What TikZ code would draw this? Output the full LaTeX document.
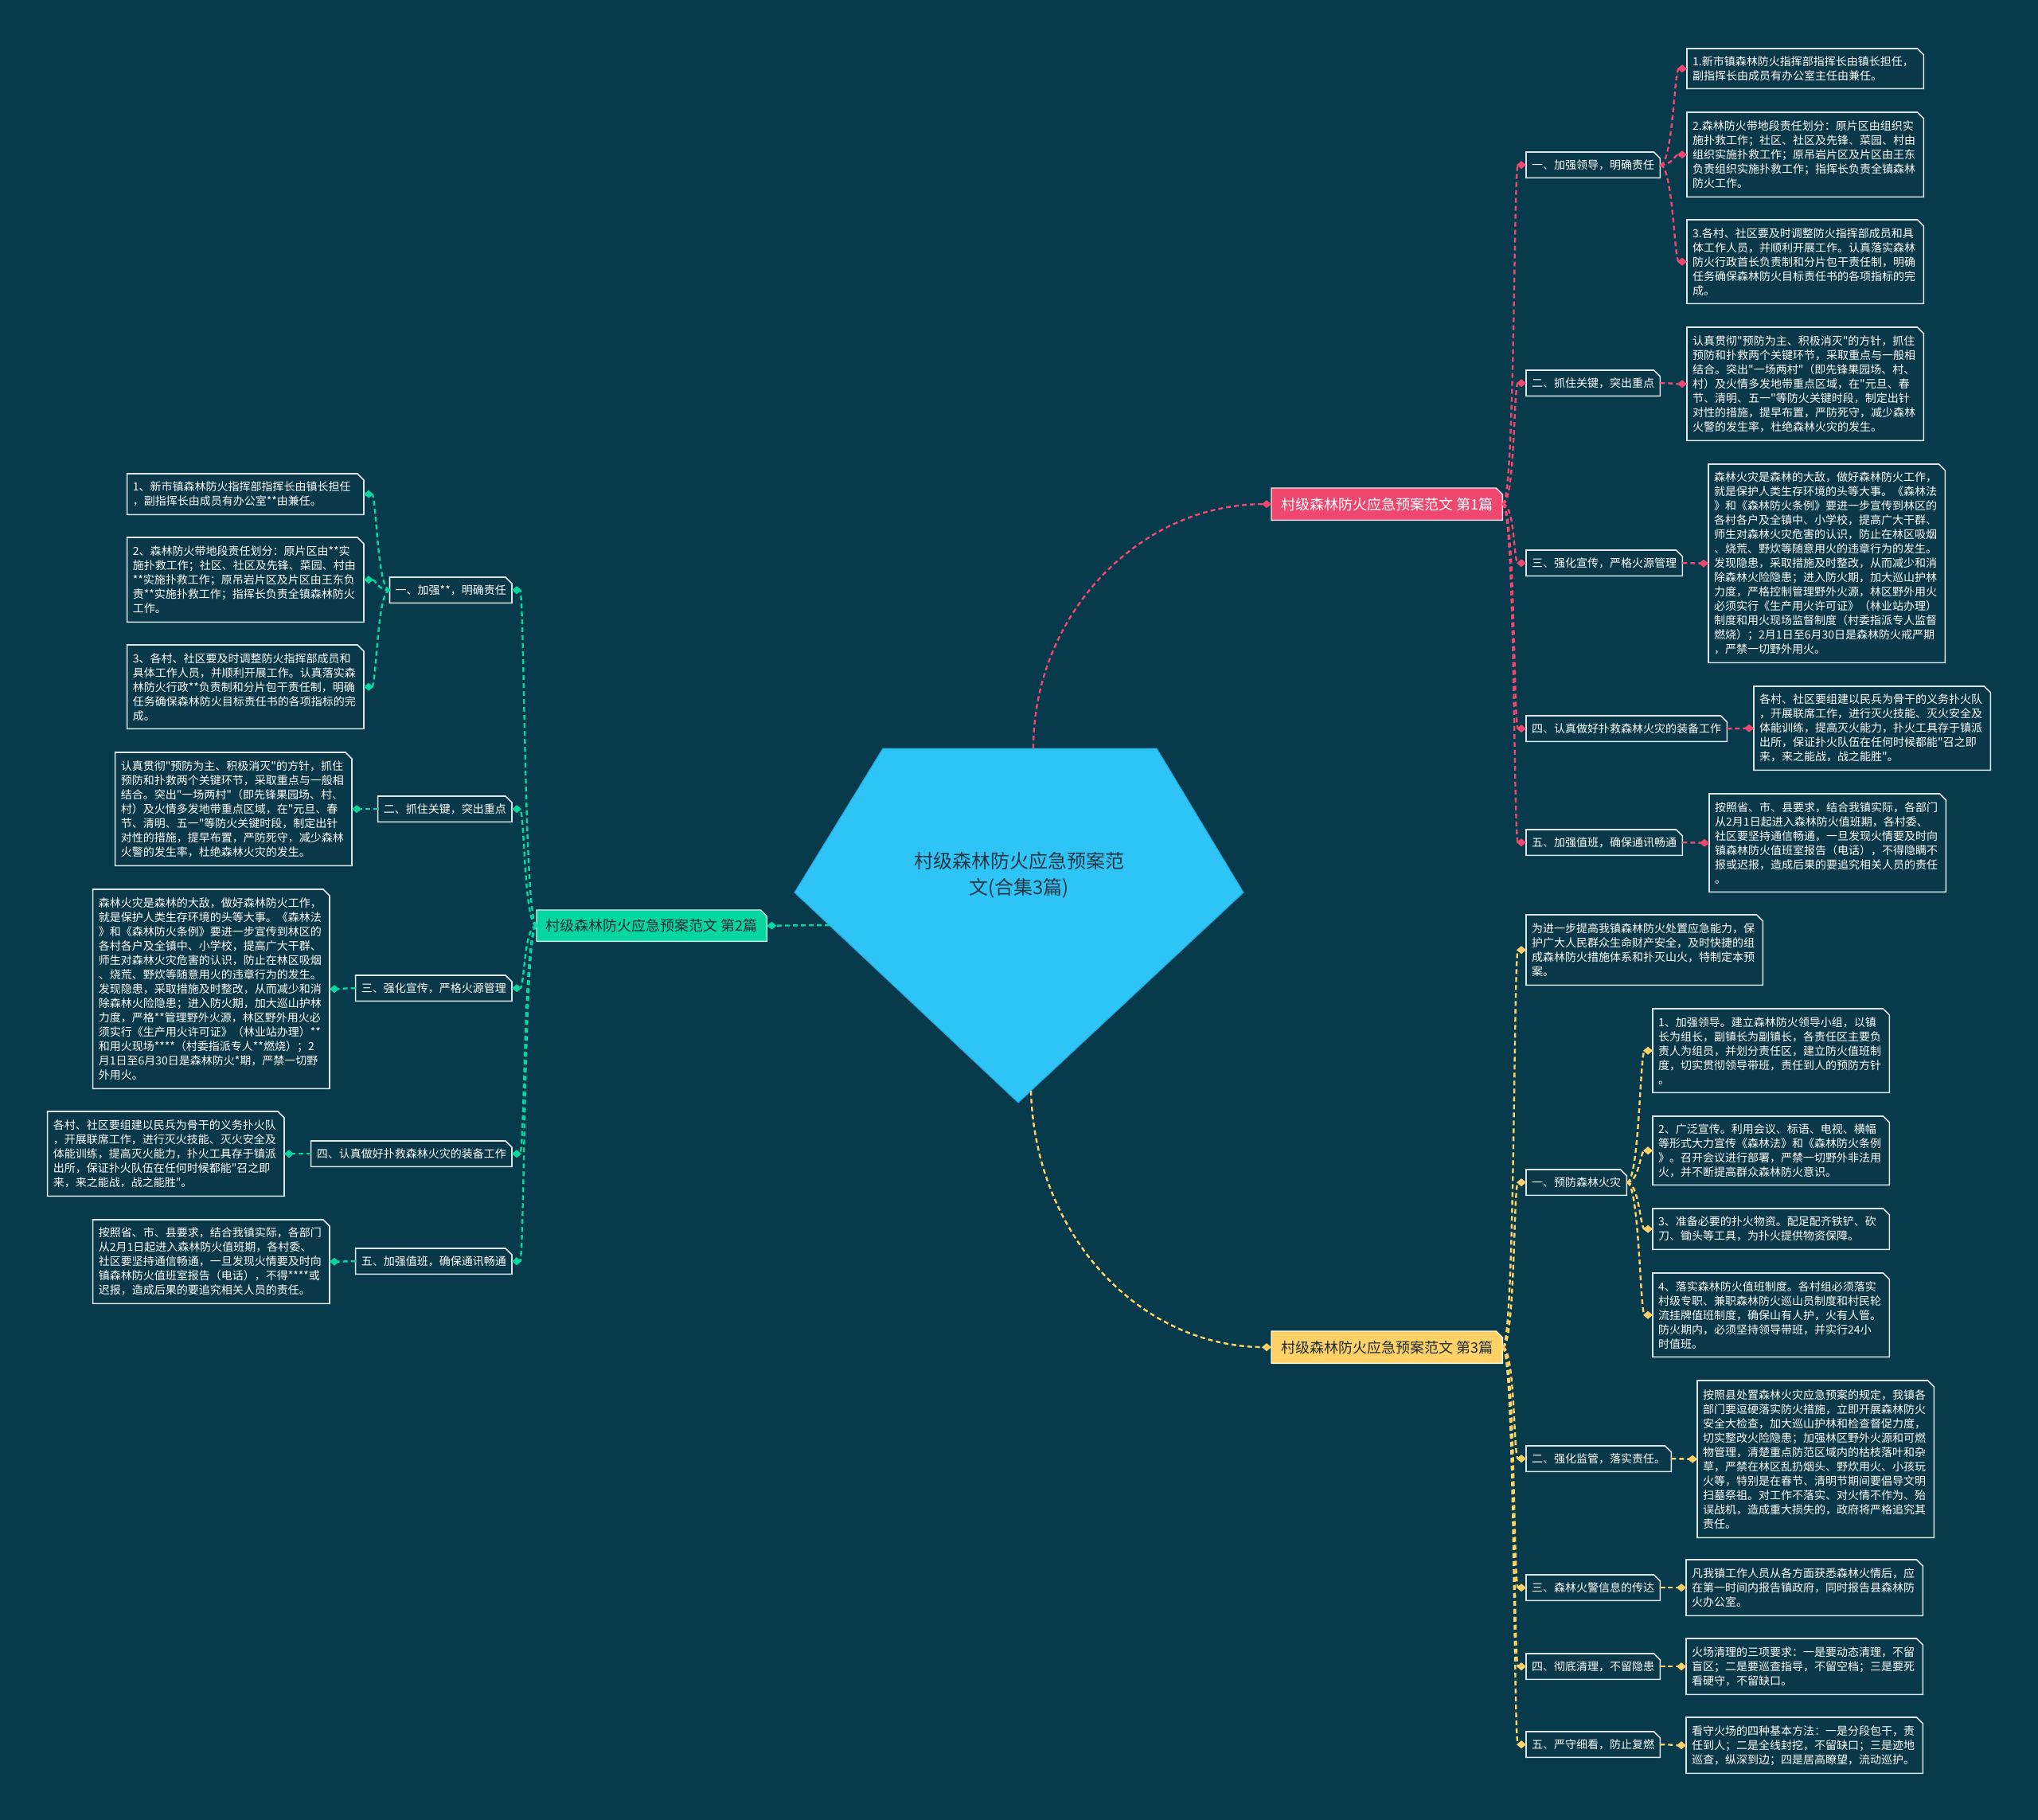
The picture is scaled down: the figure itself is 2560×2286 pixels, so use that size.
\documentclass[tikz,border=0pt]{standalone}
\usepackage{fontspec}
\setmainfont{Noto Sans CJK SC}[Ligatures=TeXOff]
\usetikzlibrary{arrows.meta}
\definecolor{bgc}{RGB}{7,59,76}
\definecolor{boxfill}{RGB}{9,57,73}
\definecolor{boxline}{RGB}{222,230,233}
\definecolor{pinkc}{RGB}{239,71,111}
\definecolor{greenc}{RGB}{6,214,160}
\definecolor{yellowc}{RGB}{255,209,102}
\definecolor{centerc}{RGB}{46,196,245}
\definecolor{centeredge}{RGB}{35,165,225}
\definecolor{centertext}{RGB}{35,55,70}
\definecolor{darktext}{RGB}{30,45,55}
\newcommand\lf{\fontsize{14}{18}\selectfont}
\newcommand\mf{\fontsize{18}{22}\selectfont}
\newcommand\cf{\fontsize{24}{33}\selectfont}
\pgfdeclarelayer{back}
\pgfdeclarelayer{bg}
\pgfsetlayers{back,bg,main}
\newcommand\cutbox[2][boxsty]{\begin{pgfonlayer}{bg}\path[#1] (#2.south west) -- (#2.north west) -- ([xshift=-8pt]#2.north east) -- ([yshift=-8pt]#2.north east) -- (#2.south east) -- cycle;\end{pgfonlayer}}
\newcommand\leafnode[6][north west]{\node[leafsty,anchor=#1,minimum height=#5pt] (#2) at (#3,#4) {#6};\cutbox{#2}}
\newcommand\subnode[5][north west]{\node[substy,anchor=#1,minimum height=32pt] (#2) at (#3,#4) {#5};\cutbox{#2}}
\newcommand\rconn[3]{\draw[conn,#1] (#2.east) .. controls +(16,0) and +(-16,0) .. (#3.west);}
\newcommand\lconn[3]{\draw[conn,#1] (#2.west) .. controls +(-16,0) and +(16,0) .. (#3.east);}
\begin{document}
\begin{tikzpicture}[x=1pt,y=-1pt,
  boxsty/.style={fill=boxfill,draw=boxline,line width=1.6pt,line join=miter},
  leafsty/.style={rectangle,inner xsep=7pt,inner ysep=4pt,text width=283pt,align=left,text=white,font=\lf},
  substy/.style={rectangle,inner xsep=7pt,inner ysep=4pt,text=white,font=\lf},
  mainsty/.style={rectangle,anchor=north west,inner xsep=6pt,inner ysep=4pt,font=\mf},
  conn/.style={dash pattern=on 6pt off 4pt,line width=2.4pt,-{Diamond[length=12pt,width=10pt]}},
  pk/.style={draw=pinkc,color=pinkc},
  gr/.style={draw=greenc,color=greenc},
  yl/.style={draw=yellowc,color=yellowc}]
\begin{pgfonlayer}{back}
\fill[bgc] (0,0) rectangle (2560,2286);
\end{pgfonlayer}
\useasboundingbox (0,0) rectangle (2560,2286);

% center
\begin{pgfonlayer}{bg}
\path[fill=centerc,draw=centeredge,line width=1pt] (1109,940) -- (1453,940) -- (1562,1121) -- (1279,1385) -- (998,1121) -- cycle;
\end{pgfonlayer}
\node[font=\cf,text=centertext,align=center] (center) at (1280,1099) {村级森林防火应急预案范\\文(合集3篇)};
\coordinate (ctop) at (1298,940);
\coordinate (cbot) at (1295,1370);
\coordinate (cleft) at (1042,1162);

% main nodes
\node[mainsty,minimum width=290pt,minimum height=40pt,text=white] (n1) at (1597,613) {村级森林防火应急预案范文 第1篇};
\cutbox[fill=pinkc,draw=white!85!pinkc,line width=1.4pt]{n1}
\node[mainsty,minimum width=289pt,minimum height=39pt,text=darktext] (n2) at (674,1143) {村级森林防火应急预案范文 第2篇};
\cutbox[fill=greenc,draw=white!80!greenc,line width=1.4pt]{n2}
\node[mainsty,minimum width=290pt,minimum height=40pt,text=darktext] (n3) at (1597,1672) {村级森林防火应急预案范文 第3篇};
\cutbox[fill=yellowc,draw=white!80!yellowc,line width=1.4pt]{n3}

\draw[conn,pk] (ctop) .. controls (1298,771) and (1432,633) .. (n1.west);
\draw[conn,yl] (cbot) .. controls (1300,1550) and (1430,1691) .. (n3.west);
\draw[conn,gr] (cleft) -- (n2.east);

% ---------- branch 1 ----------
\subnode{s1}{1917}{191}{一、加强领导，明确责任}
\subnode{s2}{1917}{465}{二、抓住关键，突出重点}
\subnode{s3}{1917}{691}{三、强化宣传，严格火源管理}
\subnode{s4}{1917}{899}{四、认真做好扑救森林火灾的装备工作}
\subnode{s5}{1917}{1042}{五、加强值班，确保通讯畅通}

\leafnode{l1}{2119}{61}{50}{1.新市镇森林防火指挥部指挥长由镇长担任，\\副指挥长由成员有办公室主任由兼任。}
\leafnode{l2}{2119}{141}{106}{2.森林防火带地段责任划分：原片区由组织实\\施扑救工作；社区、社区及先锋、菜园、村由\\组织实施扑救工作；原吊岩片区及片区由王东\\负责组织实施扑救工作；指挥长负责全镇森林\\防火工作。}
\leafnode{l3}{2119}{276}{105}{3.各村、社区要及时调整防火指挥部成员和具\\体工作人员，并顺利开展工作。认真落实森林\\防火行政首长负责制和分片包干责任制，明确\\任务确保森林防火目标责任书的各项指标的完\\成。}
\leafnode{l4}{2119}{411}{142}{认真贯彻"预防为主、积极消灭"的方针，抓住\\预防和扑救两个关键环节，采取重点与一般相\\结合。突出"一场两村"（即先锋果园场、村、\\村）及火情多发地带重点区域，在"元旦、春\\节、清明、五一"等防火关键时段，制定出针\\对性的措施，提早布置，严防死守，减少森林\\火警的发生率，杜绝森林火灾的发生。}
\leafnode{l5}{2146}{583}{249}{森林火灾是森林的大敌，做好森林防火工作，\\就是保护人类生存环境的头等大事。《森林法\\》和《森林防火条例》要进一步宣传到林区的\\各村各户及全镇中、小学校，提高广大干群、\\师生对森林火灾危害的认识，防止在林区吸烟\\、烧荒、野炊等随意用火的违章行为的发生。\\发现隐患，采取措施及时整改，从而减少和消\\除森林火险隐患；进入防火期，加大巡山护林\\力度，严格控制管理野外火源，林区野外用火\\必须实行《生产用火许可证》（林业站办理）\\制度和用火现场监督制度（村委指派专人监督\\燃烧）；2月1日至6月30日是森林防火戒严期\\，严禁一切野外用火。}
\leafnode{l6}{2203}{862}{105}{各村、社区要组建以民兵为骨干的义务扑火队\\，开展联席工作，进行灭火技能、灭火安全及\\体能训练，提高灭火能力，扑火工具存于镇派\\出所，保证扑火队伍在任何时候都能"召之即\\来，来之能战，战之能胜"。}
\leafnode{l7}{2147}{997}{123}{按照省、市、县要求，结合我镇实际，各部门\\从2月1日起进入森林防火值班期，各村委、\\社区要坚持通信畅通，一旦发现火情要及时向\\镇森林防火值班室报告（电话），不得隐瞒不\\报或迟报，造成后果的要追究相关人员的责任\\。}

\rconn{pk}{n1}{s1}\rconn{pk}{n1}{s2}\rconn{pk}{n1}{s3}\rconn{pk}{n1}{s4}\rconn{pk}{n1}{s5}
\rconn{pk}{s1}{l1}\rconn{pk}{s1}{l2}\rconn{pk}{s1}{l3}
\rconn{pk}{s2}{l4}\rconn{pk}{s3}{l5}\rconn{pk}{s4}{l6}\rconn{pk}{s5}{l7}

% ---------- branch 2 ----------
\subnode[north east]{sL1}{643}{725}{一、加强**，明确责任}
\subnode[north east]{sL2}{643}{1000}{二、抓住关键，突出重点}
\subnode[north east]{sL3}{643}{1225}{三、强化宣传，严格火源管理}
\subnode[north east]{sL4}{643}{1433}{四、认真做好扑救森林火灾的装备工作}
\subnode[north east]{sL5}{643}{1568}{五、加强值班，确保通讯畅通}

\leafnode[north east]{lL1}{457}{595}{51}{1、新市镇森林防火指挥部指挥长由镇长担任\\，副指挥长由成员有办公室**由兼任。}
\leafnode[north east]{lL2}{457}{675}{106}{2、森林防火带地段责任划分：原片区由**实\\施扑救工作；社区、社区及先锋、菜园、村由\\{}**实施扑救工作；原吊岩片区及片区由王东负\\责**实施扑救工作；指挥长负责全镇森林防火\\工作。}
\leafnode[north east]{lL3}{457}{810}{105}{3、各村、社区要及时调整防火指挥部成员和\\具体工作人员，并顺利开展工作。认真落实森\\林防火行政**负责制和分片包干责任制，明确\\任务确保森林防火目标责任书的各项指标的完\\成。}
\leafnode[north east]{lL4}{442}{945}{142}{认真贯彻"预防为主、积极消灭"的方针，抓住\\预防和扑救两个关键环节，采取重点与一般相\\结合。突出"一场两村"（即先锋果园场、村、\\村）及火情多发地带重点区域，在"元旦、春\\节、清明、五一"等防火关键时段，制定出针\\对性的措施，提早布置，严防死守，减少森林\\火警的发生率，杜绝森林火灾的发生。}
\leafnode[north east]{lL5}{414}{1117}{250}{森林火灾是森林的大敌，做好森林防火工作，\\就是保护人类生存环境的头等大事。《森林法\\》和《森林防火条例》要进一步宣传到林区的\\各村各户及全镇中、小学校，提高广大干群、\\师生对森林火灾危害的认识，防止在林区吸烟\\、烧荒、野炊等随意用火的违章行为的发生。\\发现隐患，采取措施及时整改，从而减少和消\\除森林火险隐患；进入防火期，加大巡山护林\\力度，严格**管理野外火源，林区野外用火必\\须实行《生产用火许可证》（林业站办理）**\\和用火现场****（村委指派专人**燃烧）；2\\月1日至6月30日是森林防火*期，严禁一切野\\外用火。}
\leafnode[north east]{lL6}{357}{1396}{106}{各村、社区要组建以民兵为骨干的义务扑火队\\，开展联席工作，进行灭火技能、灭火安全及\\体能训练，提高灭火能力，扑火工具存于镇派\\出所，保证扑火队伍在任何时候都能"召之即\\来，来之能战，战之能胜"。}
\leafnode[north east]{lL7}{414}{1532}{105}{按照省、市、县要求，结合我镇实际，各部门\\从2月1日起进入森林防火值班期，各村委、\\社区要坚持通信畅通，一旦发现火情要及时向\\镇森林防火值班室报告（电话），不得****或\\迟报，造成后果的要追究相关人员的责任。}

\lconn{gr}{n2}{sL1}\lconn{gr}{n2}{sL2}\lconn{gr}{n2}{sL3}\lconn{gr}{n2}{sL4}\lconn{gr}{n2}{sL5}
\lconn{gr}{sL1}{lL1}\lconn{gr}{sL1}{lL2}\lconn{gr}{sL1}{lL3}
\lconn{gr}{sL2}{lL4}\lconn{gr}{sL3}{lL5}\lconn{gr}{sL4}{lL6}\lconn{gr}{sL5}{lL7}

% ---------- branch 3 ----------
\leafnode{lY0}{1917}{1149}{88}{为进一步提高我镇森林防火处置应急能力，保\\护广大人民群众生命财产安全，及时快捷的组\\成森林防火措施体系和扑灭山火，特制定本预\\案。}
\subnode{sY1}{1917}{1469}{一、预防森林火灾}
\subnode{sY2}{1917}{1816}{二、强化监管，落实责任。}
\subnode{sY3}{1917}{1978}{三、森林火警信息的传达}
\subnode{sY4}{1917}{2077}{四、彻底清理，不留隐患}
\subnode{sY5}{1917}{2175}{五、严守细看，防止复燃}

\leafnode{lY1}{2076}{1267}{105}{1、加强领导。建立森林防火领导小组，以镇\\长为组长，副镇长为副镇长，各责任区主要负\\责人为组员，并划分责任区，建立防火值班制\\度，切实贯彻领导带班，责任到人的预防方针\\。}
\leafnode{lY2}{2076}{1402}{86}{2、广泛宣传。利用会议、标语、电视、横幅\\等形式大力宣传《森林法》和《森林防火条例\\》。召开会议进行部署，严禁一切野外非法用\\火，并不断提高群众森林防火意识。}
\leafnode{lY3}{2076}{1518}{51}{3、准备必要的扑火物资。配足配齐铁铲、砍\\刀、锄头等工具，为扑火提供物资保障。}
\leafnode{lY4}{2076}{1599}{105}{4、落实森林防火值班制度。各村组必须落实\\村级专职、兼职森林防火巡山员制度和村民轮\\流挂牌值班制度，确保山有人护，火有人管。\\防火期内，必须坚持领导带班，并实行24小\\时值班。}
\leafnode{lY5}{2132}{1734}{197}{按照县处置森林火灾应急预案的规定，我镇各\\部门要逗硬落实防火措施，立即开展森林防火\\安全大检查，加大巡山护林和检查督促力度，\\切实整改火险隐患；加强林区野外火源和可燃\\物管理，清楚重点防范区域内的枯枝落叶和杂\\草，严禁在林区乱扔烟头、野炊用火、小孩玩\\火等，特别是在春节、清明节期间要倡导文明\\扫墓祭祖。对工作不落实、对火情不作为、殆\\误战机，造成重大损失的，政府将严格追究其\\责任。}
\leafnode{lY6}{2118}{1959}{70}{凡我镇工作人员从各方面获悉森林火情后，应\\在第一时间内报告镇政府，同时报告县森林防\\火办公室。}
\leafnode{lY7}{2118}{2058}{70}{火场清理的三项要求：一是要动态清理，不留\\盲区；二是要巡查指导，不留空档；三是要死\\看硬守，不留缺口。}
\leafnode{lY8}{2118}{2157}{70}{看守火场的四种基本方法：一是分段包干，责\\任到人；二是全线封挖，不留缺口；三是迹地\\巡查，纵深到边；四是居高瞭望，流动巡护。}

\rconn{yl}{n3}{lY0}\rconn{yl}{n3}{sY1}\rconn{yl}{n3}{sY2}\rconn{yl}{n3}{sY3}\rconn{yl}{n3}{sY4}\rconn{yl}{n3}{sY5}
\rconn{yl}{sY1}{lY1}\rconn{yl}{sY1}{lY2}\rconn{yl}{sY1}{lY3}\rconn{yl}{sY1}{lY4}
\rconn{yl}{sY2}{lY5}\rconn{yl}{sY3}{lY6}\rconn{yl}{sY4}{lY7}\rconn{yl}{sY5}{lY8}
\end{tikzpicture}
\end{document}
